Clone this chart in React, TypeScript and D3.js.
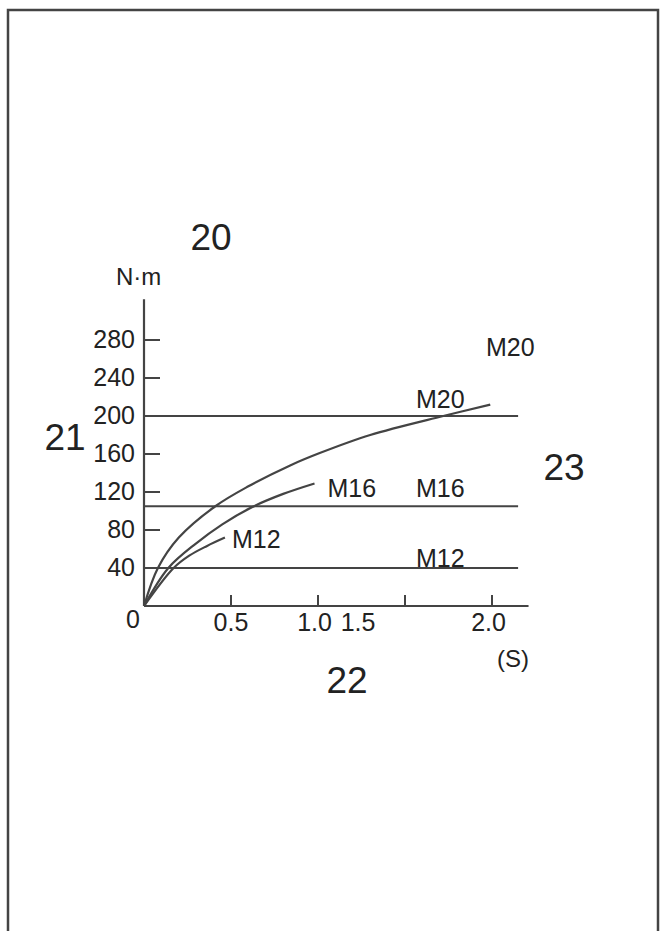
import React from "react";
import * as d3 from "d3";

// ---- data ----
const yTicks = [40, 80, 120, 160, 200, 240, 280];
const xTicks = [0.5, 1.0, 1.5, 2.0];
const xTickLabels = ["0.5", "1.0", "1.5", "2.0"];
// where the printed labels sit (in x units) — the "1.5" is printed off its tick in the source
const xLabelAt = [0.5, 0.98, 1.23, 1.98];

const m20: [number, number][] = [
  [0, 0], [0.08, 40], [0.2, 72], [0.41, 105], [0.6, 126],
  [0.84, 148], [1.01, 161], [1.3, 180], [1.72, 200], [1.99, 212],
];
const m16: [number, number][] = [
  [0, 0], [0.14, 40], [0.3, 66], [0.45, 86], [0.62, 104],
  [0.8, 118], [0.98, 129],
];
const m12: [number, number][] = [
  [0, 0], [0.17, 40], [0.26, 53], [0.36, 63], [0.465, 72],
];

const limitNames = ["M20", "M16", "M12"];
const limitValues = [200, 105, 40];

const figureNumbers = ["20", "21", "22", "23"];

export default function App() {
  const W = 665;
  const H = 931;
  const x = d3.scaleLinear().domain([0, 2]).range([144, 492]);
  const y = d3.scaleLinear().domain([0, 280]).range([606, 340]);
  const gen = d3
    .line<[number, number]>()
    .x((d) => x(d[0]))
    .y((d) => y(d[1]))
    .curve(d3.curveCatmullRom.alpha(0.5));

  const stroke = "#444";
  const txt = "#222";
  const font = "'Liberation Sans', Arial, sans-serif";
  const xEnd = 2.21;
  const yTop = 323;
  const hEnd = 2.15;
  const fs = 25;

  return (
    <svg
      width={W}
      height={H}
      style={{ position: "absolute", left: 0, top: 0, background: "#fff" }}
      fontFamily={font}
    >
      <rect x={8} y={10} width={650} height={940} fill="none" stroke="#444" strokeWidth={2.5} />

      {/* axes */}
      <line x1={x(0)} y1={y(0)} x2={x(0)} y2={y(yTop)} stroke={stroke} strokeWidth={2.2} />
      <line x1={x(0)} y1={y(0)} x2={x(xEnd)} y2={y(0)} stroke={stroke} strokeWidth={2.2} />

      {yTicks.map((t) => (
        <g key={"yt" + t}>
          <line x1={x(0)} x2={x(0) + 16} y1={y(t)} y2={y(t)} stroke={stroke} strokeWidth={2} />
          <text x={135} y={y(t) + 8} textAnchor="end" fontSize={fs} fill={txt}>
            {t}
          </text>
        </g>
      ))}
      {xTicks.map((t) => (
        <line key={"xt" + t} x1={x(t)} x2={x(t)} y1={y(0)} y2={y(0) - 11} stroke={stroke} strokeWidth={2} />
      ))}
      {xTickLabels.map((l, i) => (
        <text key={"xl" + l} x={x(xLabelAt[i])} y={631} textAnchor="middle" fontSize={fs} fill={txt}>
          {l}
        </text>
      ))}
      <text x={133} y={628} textAnchor="middle" fontSize={fs} fill={txt}>0</text>
      <text x={116} y={285} fontSize={24} fill={txt}>N·m</text>
      <text x={513} y={667} textAnchor="middle" fontSize={24} fill={txt}>(S)</text>

      {/* limit lines */}
      {limitValues.map((v, i) => (
        <g key={"lim" + i}>
          <line x1={x(0)} x2={x(hEnd)} y1={y(v)} y2={y(v)} stroke={stroke} strokeWidth={2.2} />
          <text x={416} y={y(v) - 8 + (i === 1 ? -1 : i === 2 ? 7 : 0)} fontSize={fs} fill={txt}>
            {limitNames[i]}
          </text>
        </g>
      ))}

      {/* curves */}
      {[m20, m16, m12].map((s, i) => (
        <path key={"c" + i} d={gen(s) || ""} fill="none" stroke={stroke} strokeWidth={2.2} />
      ))}
      <text x={x(m16[m16.length - 1][0]) + 13} y={497} fontSize={fs} fill={txt}>{limitNames[1]}</text>
      <text x={x(m12[m12.length - 1][0]) + 7} y={548} fontSize={fs} fill={txt}>{limitNames[2]}</text>
      <text x={486} y={356} fontSize={fs} fill={txt}>{limitNames[0]}</text>

      {/* figure numbers */}
      <text x={211} y={250} textAnchor="middle" fontSize={37} fill={txt}>{figureNumbers[0]}</text>
      <text x={65} y={450} textAnchor="middle" fontSize={37} fill={txt}>{figureNumbers[1]}</text>
      <text x={347} y={693} textAnchor="middle" fontSize={37} fill={txt}>{figureNumbers[2]}</text>
      <text x={564} y={480} textAnchor="middle" fontSize={37} fill={txt}>{figureNumbers[3]}</text>
    </svg>
  );
}
